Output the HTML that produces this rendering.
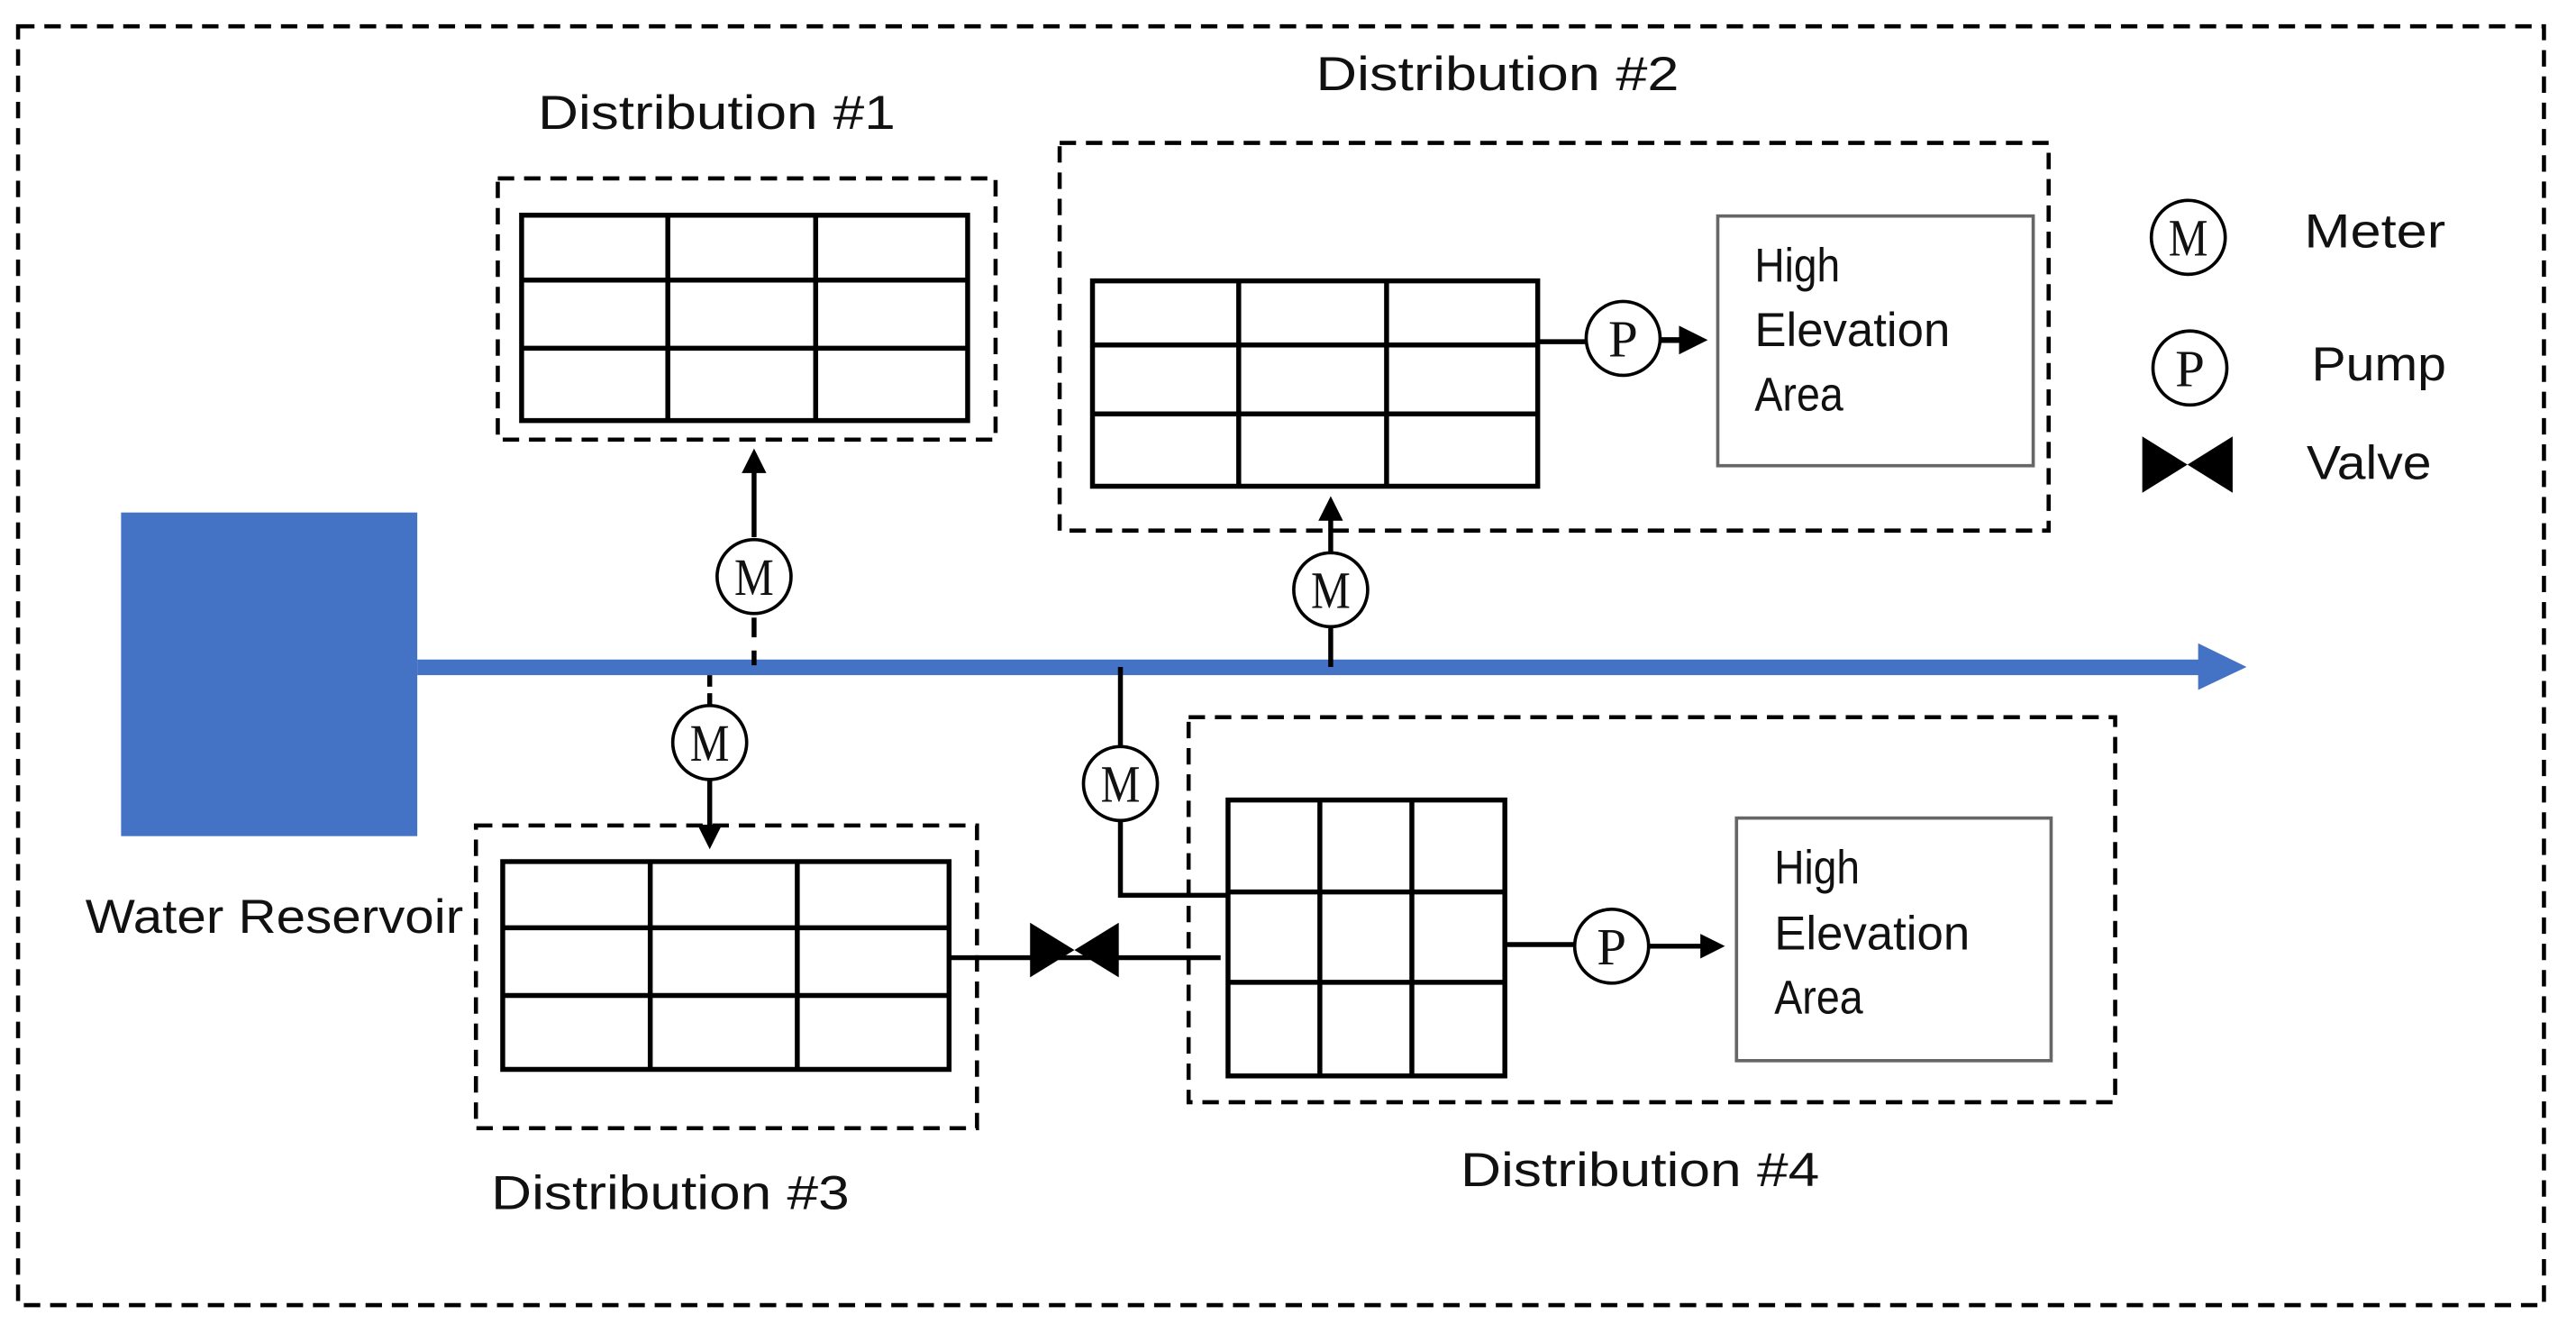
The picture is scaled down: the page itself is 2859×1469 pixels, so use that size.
<!DOCTYPE html>
<html><head><meta charset="utf-8"><style>
html,body{margin:0;padding:0;background:#fff;overflow:hidden}
svg{display:block}
text{font-family:"Liberation Sans",sans-serif;fill:#111}
.s{font-family:"Liberation Serif",serif}
</style></head><body>
<svg width="2859" height="1469" viewBox="0 0 1568 806" preserveAspectRatio="none" xmlns="http://www.w3.org/2000/svg">
<defs>
<marker id="ah" markerWidth="5" markerHeight="5" refX="4" refY="2.5" orient="auto" markerUnits="strokeWidth">
<path d="M0,0 L5,2.5 L0,5 z" fill="#000"/></marker>
</defs>
<g fill="none" stroke="#000" stroke-width="2.5" stroke-dasharray="10,6">
<rect x="11" y="16" width="1537.5" height="778.5"/>
<rect x="303" y="108.6" width="303" height="159"/>
<rect x="645" y="87" width="602" height="236"/>
<rect x="289.7" y="502.5" width="305" height="184.3"/>
<rect x="723.5" y="436.6" width="564" height="234.4"/>
</g>
<rect x="73.7" y="312" width="180.3" height="197" fill="#4472C4"/>
<rect x="254" y="401.5" width="1086" height="9.5" fill="#4472C4"/>
<path d="M1338,391.6 L1367.5,406 L1338,420 z" fill="#4472C4"/>
<g stroke="#000" stroke-width="3" fill="none" stroke-linecap="square">
<path d="M317.5,131H589M317.5,170.5H589M317.5,212H589M317.5,256H589M317.5,131V256M406.5,131V256M496.5,131V256M589,131V256"/>
<path d="M665,171H936M665,210H936M665,252H936M665,296H936M665,171V296M754,171V296M844,171V296M936,171V296"/>
<path d="M306,524.5H577.7M306,564.8H577.7M306,606H577.7M306,651H577.7M306,524.5V651M395.8,524.5V651M485.3,524.5V651M577.7,524.5V651"/>
<path d="M747.5,487H916M747.5,543H916M747.5,598H916M747.5,655H916M747.5,487V655M803.4,487V655M859.4,487V655M916,488V655"/>
</g>
<g stroke="#000" stroke-width="3" fill="none">
<path d="M459,405V396M459,388V376" />
<path d="M459,327V276" marker-end="url(#ah)"/>
<path d="M432,411V418M432,422V429"/>
<path d="M432,475V514" marker-end="url(#ah)"/>
<path d="M810,406V382"/>
<path d="M810,336V305" marker-end="url(#ah)"/>
<path d="M682,406V454M682,500V545H748"/>
<path d="M936,208H965"/>
<path d="M1011,207H1036" marker-end="url(#ah)" stroke-width="3.5"/>
<path d="M916,575H958"/>
<path d="M1004,576H1047" marker-end="url(#ah)"/>
<path d="M577.7,583H743"/>
</g>
<path d="M627,561.7 L681,595 L681,561.7 L627,595 z" fill="#000"/>
<path d="M1304,265.7 L1359,300 L1359,265.7 L1304,300 z" fill="#000"/>
<rect x="1045.6" y="131.5" width="192" height="152" fill="#fff" stroke="#666" stroke-width="2"/>
<rect x="1057" y="498" width="191.5" height="147.7" fill="#fff" stroke="#666" stroke-width="2"/>
<g fill="#fff" stroke="#000" stroke-width="2">
<circle cx="459" cy="351" r="22.5"/>
<circle cx="432" cy="452" r="22.5"/>
<circle cx="810" cy="359" r="22.5"/>
<circle cx="682" cy="477" r="22.5"/>
<circle cx="988" cy="206" r="22.5"/>
<circle cx="981" cy="576" r="22.5"/>
<circle cx="1332" cy="144.5" r="22.5"/>
<circle cx="1333" cy="224" r="22.5"/>
</g>
<g font-size="32" text-anchor="middle">
<text class="s" x="459" y="362" textLength="24" lengthAdjust="spacingAndGlyphs">M</text>
<text class="s" x="432" y="463" textLength="24" lengthAdjust="spacingAndGlyphs">M</text>
<text class="s" x="810" y="370" textLength="24" lengthAdjust="spacingAndGlyphs">M</text>
<text class="s" x="682" y="488" textLength="24" lengthAdjust="spacingAndGlyphs">M</text>
<text class="s" x="1332" y="155.5" textLength="24" lengthAdjust="spacingAndGlyphs">M</text>
<text class="s" x="988" y="217" textLength="18" lengthAdjust="spacingAndGlyphs">P</text>
<text class="s" x="981" y="587" textLength="18" lengthAdjust="spacingAndGlyphs">P</text>
<text class="s" x="1333" y="235" textLength="18" lengthAdjust="spacingAndGlyphs">P</text>
</g>
<g font-size="29">
<text x="327.5" y="78.5" textLength="217.5" lengthAdjust="spacingAndGlyphs">Distribution  #1</text>
<text x="801" y="55" textLength="221" lengthAdjust="spacingAndGlyphs">Distribution  #2</text>
<text x="299" y="736" textLength="218" lengthAdjust="spacingAndGlyphs">Distribution  #3</text>
<text x="889" y="722" textLength="218.5" lengthAdjust="spacingAndGlyphs">Distribution  #4</text>
<text x="52" y="567.8" textLength="230" lengthAdjust="spacingAndGlyphs">Water Reservoir</text>
<text x="1068" y="171.5" textLength="52" lengthAdjust="spacingAndGlyphs">High</text>
<text x="1068" y="210.6" textLength="119" lengthAdjust="spacingAndGlyphs">Elevation</text>
<text x="1068" y="249.8" textLength="54" lengthAdjust="spacingAndGlyphs">Area</text>
<text x="1080" y="538" textLength="52" lengthAdjust="spacingAndGlyphs">High</text>
<text x="1080" y="578" textLength="119" lengthAdjust="spacingAndGlyphs">Elevation</text>
<text x="1080" y="617" textLength="54" lengthAdjust="spacingAndGlyphs">Area</text>
<text x="1402.6" y="150.6" textLength="86" lengthAdjust="spacingAndGlyphs">Meter</text>
<text x="1407" y="231.5" textLength="82" lengthAdjust="spacingAndGlyphs">Pump</text>
<text x="1404" y="291.5" textLength="76" lengthAdjust="spacingAndGlyphs">Valve</text>
</g>
</svg>
</body></html>
